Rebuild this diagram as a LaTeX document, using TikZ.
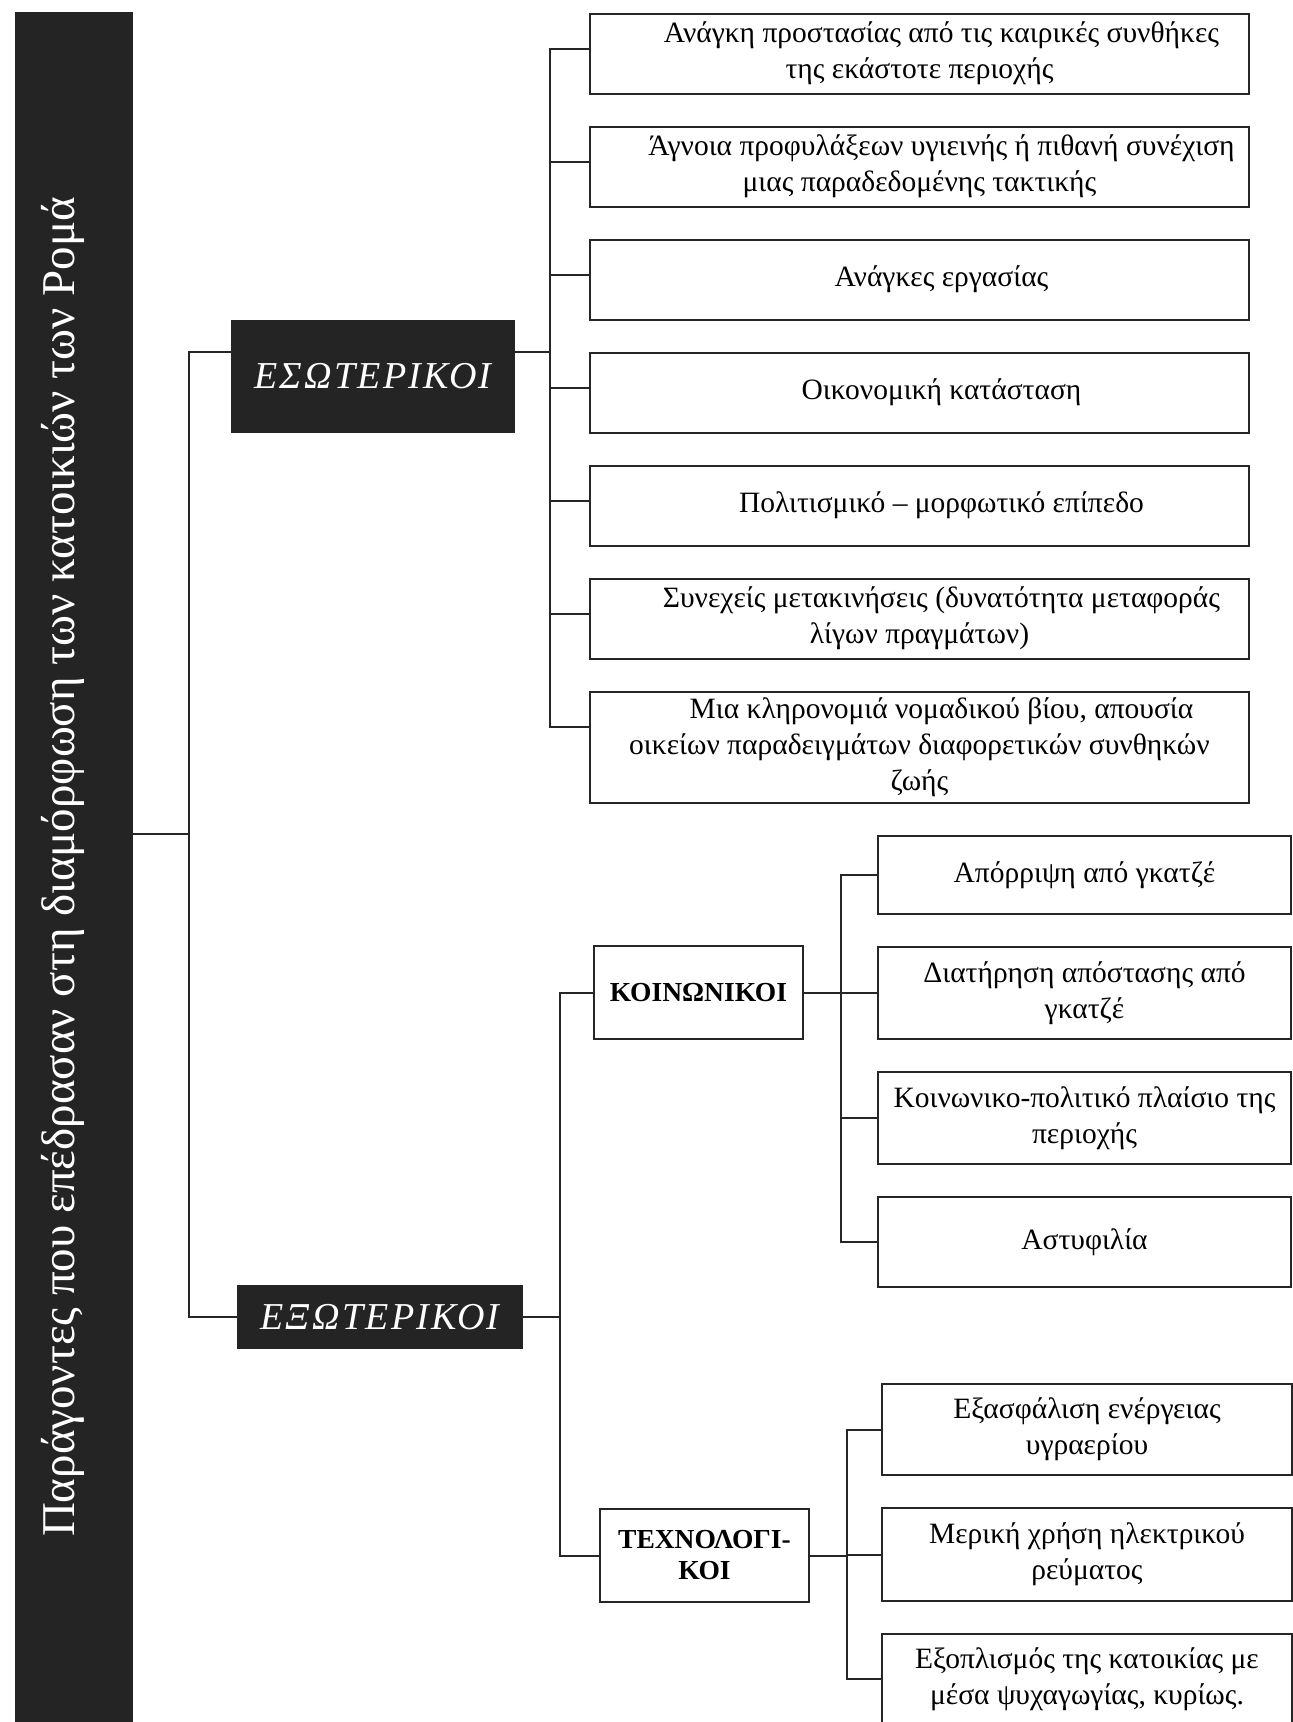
\documentclass[tikz,border=0pt]{standalone}
\usepackage{fontspec}
\setmainfont{Liberation Serif}
\usetikzlibrary{positioning}
\tikzset{
    link/.style={draw=black!85, line width=2pt}, % connector lines
    item box/.style={
        draw=black!85,
        line width=2pt,
        align=center,
        minimum width=#1,
        minimum height=80pt,
        inner sep=4pt,
        font=\fontsize{29.5}{36}\selectfont,
    },
    indent first/.style={
        text width=651pt,
        align=flush center,
        execute at begin node={\hspace*{44pt}}, % first line sits a bit to the right
    },
    dark box/.style={
        fill=black!86,
        text=white,
        minimum width=#1,
        font=\fontsize{38}{40}\selectfont\itshape\addfontfeatures{LetterSpace=6},
    },
    group box/.style={
        draw=black!85,
        line width=2pt,
        align=center,
        minimum width=209pt,
        minimum height=93pt,
        font=\fontsize{27.5}{31}\selectfont\bfseries,
    },
    title bar/.style={
        fill=black!86,
        minimum width=118pt,
        minimum height=1718pt,
        inner sep=0pt,
    },
    title text/.style={
        text=white,
        rotate=90,
        inner sep=0pt,
        font=\fontsize{47}{50}\selectfont,
    }
}
\begin{document}
\begin{tikzpicture}[x=1pt, y=-1pt, node distance=31pt]
    \useasboundingbox (0,0) rectangle (1293,1722);
    \node [title bar] (bar) at (74,871) {};
    \node [title text] (title) at (63,867) {Παράγοντες που επέδρασαν στη διαμόρφωση των κατοικιών των Ρομά};

    \node [dark box=284, minimum height=113pt] (es) at (373,376.5) {ΕΣΩΤΕΡΙΚΟΙ};
    \node [dark box=286, minimum height=64pt] (ex) at (380,1317) {ΕΞΩΤΕΡΙΚΟΙ};

    % internal factors
    \node [item box=659, indent first] (e1) at (919.5,53.5) {Ανάγκη προστασίας από τις καιρικές συνθήκες\\της εκάστοτε περιοχής};
    \node [item box=659, indent first, below=of e1] (e2) {Άγνοια προφυλάξεων υγιεινής ή πιθανή συνέχιση\\μιας παραδεδομένης τακτικής};
    \node [item box=659, indent first, below=of e2] (e3) {Ανάγκες εργασίας};
    \node [item box=659, indent first, below=of e3] (e4) {Οικονομική κατάσταση};
    \node [item box=659, indent first, below=of e4] (e5) {Πολιτισμικό – μορφωτικό επίπεδο};
    \node [item box=659, indent first, below=of e5] (e6) {Συνεχείς μετακινήσεις (δυνατότητα μεταφοράς\\λίγων πραγμάτων)};
    \node [item box=659, indent first, below=of e6, minimum height=111pt] (e7) {Μια κληρονομιά νομαδικού βίου, απουσία\\οικείων παραδειγμάτων διαφορετικών συνθηκών\\ζωής};

    % external factors
    \node [group box] (ko) at (698.5,992.5) {ΚΟΙΝΩΝΙΚΟΙ};
    \node [group box] (te) at (704.5,1555.5) {ΤΕΧΝΟΛΟΓΙ-\\ΚΟΙ};

    \node [item box=413, minimum height=78pt] (k1) at (1084.5,875) {Απόρριψη από γκατζέ};
    \node [item box=413, minimum height=92pt, below=of k1] (k2) {Διατήρηση απόστασης από\\γκατζέ};
    \node [item box=413, minimum height=92pt, below=of k2] (k3) {Κοινωνικο-πολιτικό πλαίσιο της\\περιοχής};
    \node [item box=413, minimum height=90pt, below=of k3] (k4) {Αστυφιλία};

    \node [item box=410, minimum height=91pt] (t1) at (1087,1429.5) {Εξασφάλιση ενέργειας\\υγραερίου};
    \node [item box=410, minimum height=93pt, below=of t1] (t2) {Μερική χρήση ηλεκτρικού\\ρεύματος};
    \node [item box=410, minimum height=90pt, below=of t2] (t3) {Εξοπλισμός της κατοικίας με\\μέσα ψυχαγωγίας, κυρίως.};

    % junctions
    \coordinate (rootj) at (189,834);
    \coordinate (esj) at ([xshift=35pt,yshift=-32pt]es.north east);
    \coordinate (exj) at ([xshift=37pt]ex.east);
    \coordinate (koj) at ([xshift=37pt]ko.east);
    \coordinate (tej) at ([xshift=37pt]te.east);

    \draw [link] (bar.east |- rootj) -- (rootj);
    \draw [link] (rootj) |- ([yshift=-32pt]es.north west);
    \draw [link] (rootj) |- (ex.west);

    \draw [link] ([yshift=-32pt]es.north east) -- (esj);
    \foreach \n in {1,...,7}
        \draw [link] (esj) |- ([yshift=-36pt]e\n.north west);

    \draw [link] (ex.east) -- (exj);
    \draw [link] (exj) |- (ko.west);
    \draw [link] (exj) |- (te.west);

    \draw [link] (ko.east) -- (koj);
    \foreach \n in {1,...,4}
        \draw [link] (koj) |- (k\n.west);

    \draw [link] (te.east) -- (tej);
    \foreach \n in {1,2,3}
        \draw [link] (tej) |- (t\n.west);
\end{tikzpicture}
\end{document}
